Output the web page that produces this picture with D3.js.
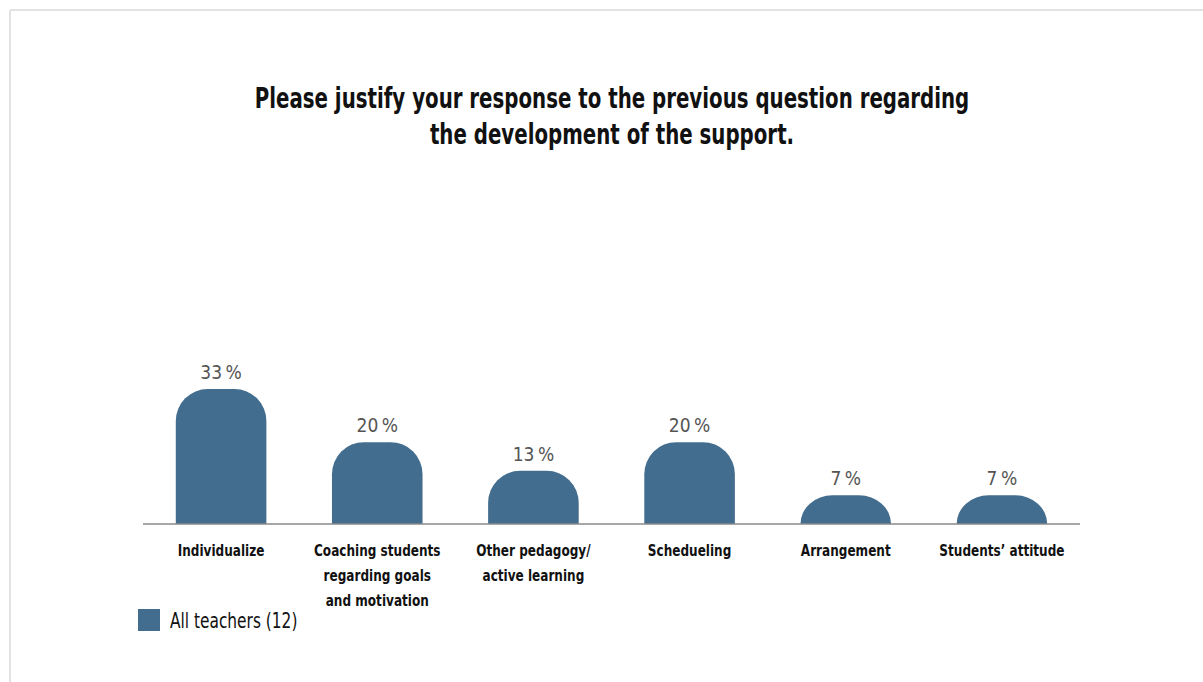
<!DOCTYPE html>
<html>
<head>
<meta charset="utf-8">
<script src="https://cdn.jsdelivr.net/npm/d3@7"></script>
<style>
  html, body { margin: 0; padding: 0; background: #fff; }
  svg { display: block; }
  text { font-family: "DejaVu Sans", sans-serif; }
</style>
</head>
<body>
<svg id="chart" width="1203" height="682"></svg>
<script>
// Survey answers: share of teachers per justification category
const categories = [
  ["Individualize"],
  ["Coaching students", "regarding goals", "and motivation"],
  ["Other pedagogy/", "active learning"],
  ["Schedueling"],
  ["Arrangement"],
  ["Students\u2019 attitude"]
];
const values = [33, 20, 13, 20, 7, 7];
const seriesName = "All teachers (12)";
const titleLines = [
  "Please justify your response to the previous question regarding",
  "the development of the support."
];

const W = 1203, H = 682;
const barColor = "#436d8e";
const svg = d3.select("#chart");

// place a text at (px, py) and squeeze it horizontally for a condensed look
function placeSqueezed(sel, px, py, k) {
  sel.attr("x", 0).attr("y", 0)
    .attr("transform", (d, i) => `translate(${px(d, i)},${py(d, i)}) scale(${k},1)`);
}

// frame lines along top and left
svg.append("line").attr("x1", 10).attr("x2", W).attr("y1", 10).attr("y2", 10)
  .attr("stroke", "#e2e2e2").attr("stroke-width", 2);
svg.append("line").attr("x1", 10).attr("x2", 10).attr("y1", 10).attr("y2", H)
  .attr("stroke", "#e2e2e2").attr("stroke-width", 2);

// title
svg.append("g").selectAll("text").data(titleLines).join("text")
  .attr("text-anchor", "middle")
  .attr("font-size", 28).attr("font-weight", "bold").attr("fill", "#111")
  .text(d => d)
  .call(placeSqueezed, () => 612, (d, i) => 108 + i * 36, 0.707);

const x = d3.scaleBand()
  .domain(d3.range(categories.length))
  .range([143, 1080])
  .paddingInner(0.42).paddingOuter(0.21);

const baseY = 524;
const y = d3.scaleLinear().domain([0, 33]).range([baseY, 389]);

// bar with rounded top corners
function barPath(x0, w, top, bottom) {
  const h = bottom - top;
  const rx = Math.min(32, w / 2);
  const ry = Math.min(32, h);
  return `M${x0},${bottom}` +
    `L${x0},${top + ry}` +
    `A${rx},${ry} 0 0 1 ${x0 + rx},${top}` +
    `L${x0 + w - rx},${top}` +
    `A${rx},${ry} 0 0 1 ${x0 + w},${top + ry}` +
    `L${x0 + w},${bottom}Z`;
}

svg.append("g").selectAll("path").data(values).join("path")
  .attr("d", (d, i) => barPath(x(i), x.bandwidth(), y(d), baseY))
  .attr("fill", barColor);

// baseline axis
const axis = svg.append("g").attr("transform", `translate(0,${baseY})`)
  .call(d3.axisBottom(x).tickSize(0).tickFormat(""));
axis.select(".domain").attr("stroke", "#8a8a8a").attr("stroke-width", 1.5)
  .attr("d", "M143,0H1080");

// value labels
svg.append("g").selectAll("text").data(values).join("text")
  .attr("text-anchor", "middle")
  .attr("font-size", 20).attr("fill", "#555")
  .text(d => d + "\u2009%")
  .call(placeSqueezed, (d, i) => x(i) + x.bandwidth() / 2, d => y(d) - 10, 0.857);

// category labels, one text per line
const catLines = categories.flatMap((lines, i) => lines.map((t, j) => ({ t, i, j })));
svg.append("g").selectAll("text").data(catLines).join("text")
  .attr("text-anchor", "middle")
  .attr("font-size", 16).attr("font-weight", "bold").attr("fill", "#111")
  .text(d => d.t)
  .call(placeSqueezed, d => x(d.i) + x.bandwidth() / 2, d => 556 + d.j * 25, 0.755);

// legend
const lg = svg.append("g").attr("transform", "translate(138,609)");
lg.append("rect").attr("width", 22).attr("height", 22).attr("fill", barColor);
lg.append("text")
  .attr("font-size", 21).attr("fill", "#111")
  .text(seriesName)
  .call(placeSqueezed, () => 32, () => 18.5, 0.733);
</script>
</body>
</html>
